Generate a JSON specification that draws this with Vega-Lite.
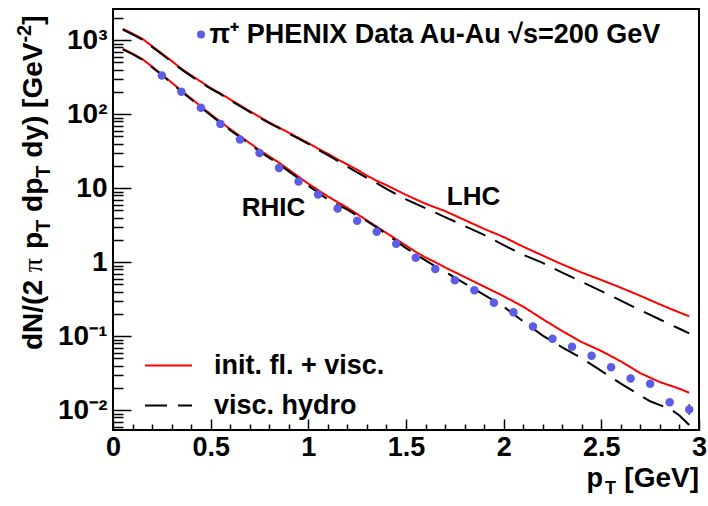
{
  "$schema": "https://vega.github.io/schema/vega-lite/v6.json",
  "width": 586,
  "height": 421,
  "autosize": {"type": "none"},
  "padding": {"left": 113, "top": 9, "right": 9, "bottom": 76},
  "background": "white",
  "config": {
    "font": "Liberation Sans",
    "view": {"stroke": "black", "strokeWidth": 2},
    "axis": {"title": null}
  },
  "resolve": {"axis": {"x": "independent", "y": "independent"}},
  "datasets": {
    "curves": [
      {"pt": 0.05, "v": 765, "m": "init. fl. + visc.", "c": "RHIC"},
      {"pt": 0.1, "v": 660, "m": "init. fl. + visc.", "c": "RHIC"},
      {"pt": 0.15, "v": 555, "m": "init. fl. + visc.", "c": "RHIC"},
      {"pt": 0.2, "v": 440, "m": "init. fl. + visc.", "c": "RHIC"},
      {"pt": 0.25, "v": 345, "m": "init. fl. + visc.", "c": "RHIC"},
      {"pt": 0.3, "v": 268, "m": "init. fl. + visc.", "c": "RHIC"},
      {"pt": 0.35, "v": 208, "m": "init. fl. + visc.", "c": "RHIC"},
      {"pt": 0.4, "v": 163, "m": "init. fl. + visc.", "c": "RHIC"},
      {"pt": 0.45, "v": 127, "m": "init. fl. + visc.", "c": "RHIC"},
      {"pt": 0.5, "v": 100, "m": "init. fl. + visc.", "c": "RHIC"},
      {"pt": 0.55, "v": 79, "m": "init. fl. + visc.", "c": "RHIC"},
      {"pt": 0.6, "v": 63, "m": "init. fl. + visc.", "c": "RHIC"},
      {"pt": 0.65, "v": 50.7, "m": "init. fl. + visc.", "c": "RHIC"},
      {"pt": 0.7, "v": 40.7, "m": "init. fl. + visc.", "c": "RHIC"},
      {"pt": 0.75, "v": 32.7, "m": "init. fl. + visc.", "c": "RHIC"},
      {"pt": 0.8, "v": 26.9, "m": "init. fl. + visc.", "c": "RHIC"},
      {"pt": 0.85, "v": 22.1, "m": "init. fl. + visc.", "c": "RHIC"},
      {"pt": 0.9, "v": 17.8, "m": "init. fl. + visc.", "c": "RHIC"},
      {"pt": 0.95, "v": 14.3, "m": "init. fl. + visc.", "c": "RHIC"},
      {"pt": 1.0, "v": 11.5, "m": "init. fl. + visc.", "c": "RHIC"},
      {"pt": 1.05, "v": 9.44, "m": "init. fl. + visc.", "c": "RHIC"},
      {"pt": 1.1, "v": 7.76, "m": "init. fl. + visc.", "c": "RHIC"},
      {"pt": 1.15, "v": 6.46, "m": "init. fl. + visc.", "c": "RHIC"},
      {"pt": 1.2, "v": 5.43, "m": "init. fl. + visc.", "c": "RHIC"},
      {"pt": 1.25, "v": 4.47, "m": "init. fl. + visc.", "c": "RHIC"},
      {"pt": 1.3, "v": 3.67, "m": "init. fl. + visc.", "c": "RHIC"},
      {"pt": 1.35, "v": 3.02, "m": "init. fl. + visc.", "c": "RHIC"},
      {"pt": 1.4, "v": 2.48, "m": "init. fl. + visc.", "c": "RHIC"},
      {"pt": 1.45, "v": 2.04, "m": "init. fl. + visc.", "c": "RHIC"},
      {"pt": 1.5, "v": 1.68, "m": "init. fl. + visc.", "c": "RHIC"},
      {"pt": 1.55, "v": 1.38, "m": "init. fl. + visc.", "c": "RHIC"},
      {"pt": 1.6, "v": 1.16, "m": "init. fl. + visc.", "c": "RHIC"},
      {"pt": 1.65, "v": 1.0, "m": "init. fl. + visc.", "c": "RHIC"},
      {"pt": 1.7, "v": 0.851, "m": "init. fl. + visc.", "c": "RHIC"},
      {"pt": 1.8, "v": 0.631, "m": "init. fl. + visc.", "c": "RHIC"},
      {"pt": 1.9, "v": 0.468, "m": "init. fl. + visc.", "c": "RHIC"},
      {"pt": 2.0, "v": 0.347, "m": "init. fl. + visc.", "c": "RHIC"},
      {"pt": 2.1, "v": 0.251, "m": "init. fl. + visc.", "c": "RHIC"},
      {"pt": 2.2, "v": 0.17, "m": "init. fl. + visc.", "c": "RHIC"},
      {"pt": 2.3, "v": 0.117, "m": "init. fl. + visc.", "c": "RHIC"},
      {"pt": 2.4, "v": 0.0832, "m": "init. fl. + visc.", "c": "RHIC"},
      {"pt": 2.5, "v": 0.0631, "m": "init. fl. + visc.", "c": "RHIC"},
      {"pt": 2.6, "v": 0.0457, "m": "init. fl. + visc.", "c": "RHIC"},
      {"pt": 2.7, "v": 0.0316, "m": "init. fl. + visc.", "c": "RHIC"},
      {"pt": 2.8, "v": 0.024, "m": "init. fl. + visc.", "c": "RHIC"},
      {"pt": 2.9, "v": 0.0195, "m": "init. fl. + visc.", "c": "RHIC"},
      {"pt": 2.95, "v": 0.0172, "m": "init. fl. + visc.", "c": "RHIC"},

      {"pt": 0.05, "v": 750, "m": "visc. hydro", "c": "RHIC"},
      {"pt": 0.1, "v": 648, "m": "visc. hydro", "c": "RHIC"},
      {"pt": 0.15, "v": 545, "m": "visc. hydro", "c": "RHIC"},
      {"pt": 0.2, "v": 432, "m": "visc. hydro", "c": "RHIC"},
      {"pt": 0.25, "v": 338, "m": "visc. hydro", "c": "RHIC"},
      {"pt": 0.3, "v": 262, "m": "visc. hydro", "c": "RHIC"},
      {"pt": 0.35, "v": 203, "m": "visc. hydro", "c": "RHIC"},
      {"pt": 0.4, "v": 159, "m": "visc. hydro", "c": "RHIC"},
      {"pt": 0.45, "v": 123.5, "m": "visc. hydro", "c": "RHIC"},
      {"pt": 0.5, "v": 97, "m": "visc. hydro", "c": "RHIC"},
      {"pt": 0.55, "v": 76.5, "m": "visc. hydro", "c": "RHIC"},
      {"pt": 0.6, "v": 61, "m": "visc. hydro", "c": "RHIC"},
      {"pt": 0.65, "v": 49, "m": "visc. hydro", "c": "RHIC"},
      {"pt": 0.7, "v": 39.3, "m": "visc. hydro", "c": "RHIC"},
      {"pt": 0.75, "v": 31.5, "m": "visc. hydro", "c": "RHIC"},
      {"pt": 0.8, "v": 25.7, "m": "visc. hydro", "c": "RHIC"},
      {"pt": 0.85, "v": 21, "m": "visc. hydro", "c": "RHIC"},
      {"pt": 0.9, "v": 16.9, "m": "visc. hydro", "c": "RHIC"},
      {"pt": 0.95, "v": 13.5, "m": "visc. hydro", "c": "RHIC"},
      {"pt": 1.0, "v": 10.8, "m": "visc. hydro", "c": "RHIC"},
      {"pt": 1.05, "v": 8.7, "m": "visc. hydro", "c": "RHIC"},
      {"pt": 1.1, "v": 7.05, "m": "visc. hydro", "c": "RHIC"},
      {"pt": 1.15, "v": 6.0, "m": "visc. hydro", "c": "RHIC"},
      {"pt": 1.2, "v": 5.13, "m": "visc. hydro", "c": "RHIC"},
      {"pt": 1.25, "v": 4.27, "m": "visc. hydro", "c": "RHIC"},
      {"pt": 1.3, "v": 3.59, "m": "visc. hydro", "c": "RHIC"},
      {"pt": 1.35, "v": 2.95, "m": "visc. hydro", "c": "RHIC"},
      {"pt": 1.4, "v": 2.38, "m": "visc. hydro", "c": "RHIC"},
      {"pt": 1.45, "v": 1.93, "m": "visc. hydro", "c": "RHIC"},
      {"pt": 1.5, "v": 1.55, "m": "visc. hydro", "c": "RHIC"},
      {"pt": 1.55, "v": 1.28, "m": "visc. hydro", "c": "RHIC"},
      {"pt": 1.6, "v": 1.06, "m": "visc. hydro", "c": "RHIC"},
      {"pt": 1.65, "v": 0.88, "m": "visc. hydro", "c": "RHIC"},
      {"pt": 1.7, "v": 0.74, "m": "visc. hydro", "c": "RHIC"},
      {"pt": 1.8, "v": 0.519, "m": "visc. hydro", "c": "RHIC"},
      {"pt": 1.9, "v": 0.363, "m": "visc. hydro", "c": "RHIC"},
      {"pt": 2.0, "v": 0.251, "m": "visc. hydro", "c": "RHIC"},
      {"pt": 2.1, "v": 0.158, "m": "visc. hydro", "c": "RHIC"},
      {"pt": 2.2, "v": 0.102, "m": "visc. hydro", "c": "RHIC"},
      {"pt": 2.3, "v": 0.0708, "m": "visc. hydro", "c": "RHIC"},
      {"pt": 2.4, "v": 0.0501, "m": "visc. hydro", "c": "RHIC"},
      {"pt": 2.5, "v": 0.0339, "m": "visc. hydro", "c": "RHIC"},
      {"pt": 2.6, "v": 0.0229, "m": "visc. hydro", "c": "RHIC"},
      {"pt": 2.7, "v": 0.0158, "m": "visc. hydro", "c": "RHIC"},
      {"pt": 2.75, "v": 0.0132, "m": "visc. hydro", "c": "RHIC"},
      {"pt": 2.8, "v": 0.0117, "m": "visc. hydro", "c": "RHIC"},
      {"pt": 2.85, "v": 0.0105, "m": "visc. hydro", "c": "RHIC"},
      {"pt": 2.9, "v": 0.0085, "m": "visc. hydro", "c": "RHIC"},
      {"pt": 2.95, "v": 0.0063, "m": "visc. hydro", "c": "RHIC"},

      {"pt": 0.05, "v": 1426, "m": "init. fl. + visc.", "c": "LHC"},
      {"pt": 0.1, "v": 1230, "m": "init. fl. + visc.", "c": "LHC"},
      {"pt": 0.15, "v": 1045, "m": "init. fl. + visc.", "c": "LHC"},
      {"pt": 0.2, "v": 832, "m": "init. fl. + visc.", "c": "LHC"},
      {"pt": 0.25, "v": 661, "m": "init. fl. + visc.", "c": "LHC"},
      {"pt": 0.3, "v": 525, "m": "init. fl. + visc.", "c": "LHC"},
      {"pt": 0.35, "v": 412, "m": "init. fl. + visc.", "c": "LHC"},
      {"pt": 0.4, "v": 335, "m": "init. fl. + visc.", "c": "LHC"},
      {"pt": 0.45, "v": 275, "m": "init. fl. + visc.", "c": "LHC"},
      {"pt": 0.5, "v": 226, "m": "init. fl. + visc.", "c": "LHC"},
      {"pt": 0.55, "v": 191, "m": "init. fl. + visc.", "c": "LHC"},
      {"pt": 0.6, "v": 158, "m": "init. fl. + visc.", "c": "LHC"},
      {"pt": 0.65, "v": 132, "m": "init. fl. + visc.", "c": "LHC"},
      {"pt": 0.7, "v": 110, "m": "init. fl. + visc.", "c": "LHC"},
      {"pt": 0.75, "v": 92.3, "m": "init. fl. + visc.", "c": "LHC"},
      {"pt": 0.8, "v": 77.6, "m": "init. fl. + visc.", "c": "LHC"},
      {"pt": 0.85, "v": 66.1, "m": "init. fl. + visc.", "c": "LHC"},
      {"pt": 0.9, "v": 56.2, "m": "init. fl. + visc.", "c": "LHC"},
      {"pt": 0.95, "v": 47.9, "m": "init. fl. + visc.", "c": "LHC"},
      {"pt": 1.0, "v": 40.7, "m": "init. fl. + visc.", "c": "LHC"},
      {"pt": 1.05, "v": 34.3, "m": "init. fl. + visc.", "c": "LHC"},
      {"pt": 1.1, "v": 29.2, "m": "init. fl. + visc.", "c": "LHC"},
      {"pt": 1.15, "v": 24.5, "m": "init. fl. + visc.", "c": "LHC"},
      {"pt": 1.2, "v": 20.9, "m": "init. fl. + visc.", "c": "LHC"},
      {"pt": 1.25, "v": 17.8, "m": "init. fl. + visc.", "c": "LHC"},
      {"pt": 1.3, "v": 14.8, "m": "init. fl. + visc.", "c": "LHC"},
      {"pt": 1.35, "v": 12.6, "m": "init. fl. + visc.", "c": "LHC"},
      {"pt": 1.4, "v": 11.0, "m": "init. fl. + visc.", "c": "LHC"},
      {"pt": 1.45, "v": 9.44, "m": "init. fl. + visc.", "c": "LHC"},
      {"pt": 1.5, "v": 8.13, "m": "init. fl. + visc.", "c": "LHC"},
      {"pt": 1.55, "v": 7.08, "m": "init. fl. + visc.", "c": "LHC"},
      {"pt": 1.6, "v": 6.17, "m": "init. fl. + visc.", "c": "LHC"},
      {"pt": 1.7, "v": 4.9, "m": "init. fl. + visc.", "c": "LHC"},
      {"pt": 1.8, "v": 3.72, "m": "init. fl. + visc.", "c": "LHC"},
      {"pt": 1.9, "v": 2.82, "m": "init. fl. + visc.", "c": "LHC"},
      {"pt": 2.0, "v": 2.19, "m": "init. fl. + visc.", "c": "LHC"},
      {"pt": 2.1, "v": 1.62, "m": "init. fl. + visc.", "c": "LHC"},
      {"pt": 2.2, "v": 1.23, "m": "init. fl. + visc.", "c": "LHC"},
      {"pt": 2.3, "v": 0.933, "m": "init. fl. + visc.", "c": "LHC"},
      {"pt": 2.4, "v": 0.724, "m": "init. fl. + visc.", "c": "LHC"},
      {"pt": 2.5, "v": 0.575, "m": "init. fl. + visc.", "c": "LHC"},
      {"pt": 2.6, "v": 0.452, "m": "init. fl. + visc.", "c": "LHC"},
      {"pt": 2.7, "v": 0.351, "m": "init. fl. + visc.", "c": "LHC"},
      {"pt": 2.8, "v": 0.269, "m": "init. fl. + visc.", "c": "LHC"},
      {"pt": 2.9, "v": 0.209, "m": "init. fl. + visc.", "c": "LHC"},
      {"pt": 2.95, "v": 0.186, "m": "init. fl. + visc.", "c": "LHC"},

      {"pt": 0.05, "v": 1393, "m": "visc. hydro", "c": "LHC"},
      {"pt": 0.1, "v": 1202, "m": "visc. hydro", "c": "LHC"},
      {"pt": 0.15, "v": 1021, "m": "visc. hydro", "c": "LHC"},
      {"pt": 0.2, "v": 813, "m": "visc. hydro", "c": "LHC"},
      {"pt": 0.25, "v": 646, "m": "visc. hydro", "c": "LHC"},
      {"pt": 0.3, "v": 513, "m": "visc. hydro", "c": "LHC"},
      {"pt": 0.35, "v": 403, "m": "visc. hydro", "c": "LHC"},
      {"pt": 0.4, "v": 327, "m": "visc. hydro", "c": "LHC"},
      {"pt": 0.45, "v": 269, "m": "visc. hydro", "c": "LHC"},
      {"pt": 0.5, "v": 221, "m": "visc. hydro", "c": "LHC"},
      {"pt": 0.55, "v": 187, "m": "visc. hydro", "c": "LHC"},
      {"pt": 0.6, "v": 154, "m": "visc. hydro", "c": "LHC"},
      {"pt": 0.65, "v": 129, "m": "visc. hydro", "c": "LHC"},
      {"pt": 0.7, "v": 107.5, "m": "visc. hydro", "c": "LHC"},
      {"pt": 0.75, "v": 90.2, "m": "visc. hydro", "c": "LHC"},
      {"pt": 0.8, "v": 75.9, "m": "visc. hydro", "c": "LHC"},
      {"pt": 0.85, "v": 64.6, "m": "visc. hydro", "c": "LHC"},
      {"pt": 0.9, "v": 54.9, "m": "visc. hydro", "c": "LHC"},
      {"pt": 0.95, "v": 46.8, "m": "visc. hydro", "c": "LHC"},
      {"pt": 1.0, "v": 39.6, "m": "visc. hydro", "c": "LHC"},
      {"pt": 1.05, "v": 33.1, "m": "visc. hydro", "c": "LHC"},
      {"pt": 1.1, "v": 27.9, "m": "visc. hydro", "c": "LHC"},
      {"pt": 1.15, "v": 23.4, "m": "visc. hydro", "c": "LHC"},
      {"pt": 1.2, "v": 19.5, "m": "visc. hydro", "c": "LHC"},
      {"pt": 1.25, "v": 16.4, "m": "visc. hydro", "c": "LHC"},
      {"pt": 1.3, "v": 13.8, "m": "visc. hydro", "c": "LHC"},
      {"pt": 1.35, "v": 11.7, "m": "visc. hydro", "c": "LHC"},
      {"pt": 1.4, "v": 9.77, "m": "visc. hydro", "c": "LHC"},
      {"pt": 1.45, "v": 8.32, "m": "visc. hydro", "c": "LHC"},
      {"pt": 1.5, "v": 7.08, "m": "visc. hydro", "c": "LHC"},
      {"pt": 1.6, "v": 5.37, "m": "visc. hydro", "c": "LHC"},
      {"pt": 1.7, "v": 4.07, "m": "visc. hydro", "c": "LHC"},
      {"pt": 1.8, "v": 3.09, "m": "visc. hydro", "c": "LHC"},
      {"pt": 1.9, "v": 2.34, "m": "visc. hydro", "c": "LHC"},
      {"pt": 2.0, "v": 1.7, "m": "visc. hydro", "c": "LHC"},
      {"pt": 2.1, "v": 1.26, "m": "visc. hydro", "c": "LHC"},
      {"pt": 2.2, "v": 0.977, "m": "visc. hydro", "c": "LHC"},
      {"pt": 2.3, "v": 0.724, "m": "visc. hydro", "c": "LHC"},
      {"pt": 2.4, "v": 0.543, "m": "visc. hydro", "c": "LHC"},
      {"pt": 2.5, "v": 0.407, "m": "visc. hydro", "c": "LHC"},
      {"pt": 2.6, "v": 0.302, "m": "visc. hydro", "c": "LHC"},
      {"pt": 2.7, "v": 0.224, "m": "visc. hydro", "c": "LHC"},
      {"pt": 2.8, "v": 0.168, "m": "visc. hydro", "c": "LHC"},
      {"pt": 2.9, "v": 0.126, "m": "visc. hydro", "c": "LHC"},
      {"pt": 2.95, "v": 0.109, "m": "visc. hydro", "c": "LHC"}
    ],
    "phenix": [
      {"pt": 0.25, "v": 334, "s": "π⁺ PHENIX Data Au-Au √s=200 GeV"},
      {"pt": 0.35, "v": 201, "s": "π⁺ PHENIX Data Au-Au √s=200 GeV"},
      {"pt": 0.45, "v": 122, "s": "π⁺ PHENIX Data Au-Au √s=200 GeV"},
      {"pt": 0.55, "v": 74, "s": "π⁺ PHENIX Data Au-Au √s=200 GeV"},
      {"pt": 0.65, "v": 45.5, "s": "π⁺ PHENIX Data Au-Au √s=200 GeV"},
      {"pt": 0.75, "v": 29.8, "s": "π⁺ PHENIX Data Au-Au √s=200 GeV"},
      {"pt": 0.85, "v": 18.7, "s": "π⁺ PHENIX Data Au-Au √s=200 GeV"},
      {"pt": 0.95, "v": 12.3, "s": "π⁺ PHENIX Data Au-Au √s=200 GeV"},
      {"pt": 1.05, "v": 8.2, "s": "π⁺ PHENIX Data Au-Au √s=200 GeV"},
      {"pt": 1.15, "v": 5.32, "s": "π⁺ PHENIX Data Au-Au √s=200 GeV"},
      {"pt": 1.25, "v": 3.63, "s": "π⁺ PHENIX Data Au-Au √s=200 GeV"},
      {"pt": 1.35, "v": 2.58, "s": "π⁺ PHENIX Data Au-Au √s=200 GeV"},
      {"pt": 1.45, "v": 1.77, "s": "π⁺ PHENIX Data Au-Au √s=200 GeV"},
      {"pt": 1.55, "v": 1.15, "s": "π⁺ PHENIX Data Au-Au √s=200 GeV"},
      {"pt": 1.65, "v": 0.81, "s": "π⁺ PHENIX Data Au-Au √s=200 GeV"},
      {"pt": 1.75, "v": 0.571, "s": "π⁺ PHENIX Data Au-Au √s=200 GeV"},
      {"pt": 1.85, "v": 0.419, "s": "π⁺ PHENIX Data Au-Au √s=200 GeV"},
      {"pt": 1.95, "v": 0.283, "s": "π⁺ PHENIX Data Au-Au √s=200 GeV"},
      {"pt": 2.05, "v": 0.211, "s": "π⁺ PHENIX Data Au-Au √s=200 GeV"},
      {"pt": 2.15, "v": 0.135, "s": "π⁺ PHENIX Data Au-Au √s=200 GeV"},
      {"pt": 2.25, "v": 0.0922, "s": "π⁺ PHENIX Data Au-Au √s=200 GeV"},
      {"pt": 2.35, "v": 0.0719, "s": "π⁺ PHENIX Data Au-Au √s=200 GeV"},
      {"pt": 2.45, "v": 0.0543, "s": "π⁺ PHENIX Data Au-Au √s=200 GeV"},
      {"pt": 2.55, "v": 0.0381, "s": "π⁺ PHENIX Data Au-Au √s=200 GeV"},
      {"pt": 2.65, "v": 0.0268, "s": "π⁺ PHENIX Data Au-Au √s=200 GeV"},
      {"pt": 2.75, "v": 0.0227, "s": "π⁺ PHENIX Data Au-Au √s=200 GeV"},
      {"pt": 2.85, "v": 0.0128, "lo": 0.0116, "hi": 0.0141, "s": "π⁺ PHENIX Data Au-Au √s=200 GeV"},
      {"pt": 2.95, "v": 0.0102, "lo": 0.0086, "hi": 0.0121, "s": "π⁺ PHENIX Data Au-Au √s=200 GeV"}
    ],
    "labels": [
      {"pt": 0.659, "v": 4.19, "t": "RHIC"},
      {"pt": 1.709, "v": 6.02, "t": "LHC"}
    ],
    "anchor": [{"a": 1}]
  },
  "layer": [
    {
      "data": {"name": "curves"},
      "mark": {"type": "line", "strokeWidth": 2, "clip": true},
      "encoding": {
        "x": {
          "field": "pt", "type": "quantitative",
          "scale": {"domain": [0, 3], "nice": false, "zero": false},
          "axis": {
            "title": null, "orient": "bottom",
            "values": [0, 0.5, 1, 1.5, 2, 2.5, 3],
            "format": "~g",
            "labelFont": "Liberation Sans", "labelFontSize": 27, "labelFontWeight": "bold", "labelColor": "black",
            "labelBaseline": "top", "labelPadding": 15, "labelOverlap": false, "labelFlush": false, "labelBound": false,
            "tickColor": "black", "tickWidth": 1.5, "tickSize": -11,
            "domain": false, "grid": false
          }
        },
        "y": {
          "field": "v", "type": "quantitative",
          "scale": {"type": "log", "domain": [0.0054, 2640], "nice": false},
          "axis": {
            "title": null, "orient": "left",
            "values": [0.01, 0.1, 1, 10, 100, 1000],
            "labelExpr": "datum.value === 0.01 ? '10⁻²' : datum.value === 0.1 ? '10⁻¹' : datum.value === 1 ? '1' : datum.value === 10 ? '10' : datum.value === 100 ? '10²' : '10³'",
            "labelFont": "Liberation Sans", "labelFontSize": 28, "labelFontWeight": "bold", "labelColor": "black",
            "labelAlign": "right", "labelBaseline": "middle", "labelPadding": 24, "labelOverlap": false, "labelFlush": false,
            "tickColor": "black", "tickWidth": 1.5, "tickSize": -18,
            "domain": false, "grid": false
          }
        },
        "color": {
          "field": "m", "type": "nominal",
          "scale": {"domain": ["init. fl. + visc.", "visc. hydro"], "range": ["#ff0000", "#000000"]},
          "legend": {
            "orient": "none", "legendX": 42, "legendY": 343, "title": null, "padding": 0,
            "labelFont": "Liberation Sans", "labelFontSize": 27, "labelFontWeight": "bold", "labelColor": "black", "labelLimit": 1000,
            "symbolType": "M-2,0L2,0", "symbolSize": 552, "symbolStrokeWidth": 2, "labelOffset": 32, "rowPadding": 12
          }
        },
        "strokeDash": {
          "field": "m", "type": "nominal",
          "scale": {"domain": ["init. fl. + visc.", "visc. hydro"], "range": [[1, 0], [22, 11]]},
          "legend": {
            "orient": "none", "legendX": 42, "legendY": 343, "title": null, "padding": 0,
            "labelFont": "Liberation Sans", "labelFontSize": 27, "labelFontWeight": "bold", "labelColor": "black", "labelLimit": 1000,
            "symbolType": "M-2,0L2,0", "symbolSize": 552, "symbolStrokeWidth": 2, "labelOffset": 32, "rowPadding": 12
          }
        },
        "detail": {"field": "c", "type": "nominal"}
      }
    },
    {
      "data": {"name": "phenix"},
      "transform": [{"filter": "isValid(datum.lo)"}],
      "mark": {"type": "rule", "color": "#444444", "strokeWidth": 1.5},
      "encoding": {
        "x": {
          "field": "pt", "type": "quantitative",
          "axis": {
            "title": null, "orient": "bottom",
            "values": [0.1, 0.2, 0.3, 0.4, 0.6, 0.7, 0.8, 0.9, 1.1, 1.2, 1.3, 1.4, 1.6, 1.7, 1.8, 1.9, 2.1, 2.2, 2.3, 2.4, 2.6, 2.7, 2.8, 2.9],
            "labels": false, "tickColor": "black", "tickWidth": 1.5, "tickSize": -6,
            "domain": false, "grid": false
          }
        },
        "y": {
          "field": "lo", "type": "quantitative",
          "axis": {
            "title": null, "orient": "left",
            "values": [0.006, 0.007, 0.008, 0.009, 0.02, 0.03, 0.04, 0.05, 0.06, 0.07, 0.08, 0.09, 0.2, 0.3, 0.4, 0.5, 0.6, 0.7, 0.8, 0.9, 2, 3, 4, 5, 6, 7, 8, 9, 20, 30, 40, 50, 60, 70, 80, 90, 200, 300, 400, 500, 600, 700, 800, 900, 2000],
            "labels": false, "tickColor": "black", "tickWidth": 1.5, "tickSize": -10,
            "domain": false, "grid": false
          }
        },
        "y2": {"field": "hi"}
      }
    },
    {
      "data": {"name": "phenix"},
      "mark": {"type": "point", "filled": true, "size": 72, "color": "#5c5ce6", "opacity": 1},
      "encoding": {
        "x": {"field": "pt", "type": "quantitative", "axis": null},
        "y": {"field": "v", "type": "quantitative", "axis": null},
        "shape": {
          "field": "s", "type": "nominal",
          "scale": {"range": ["circle"]},
          "legend": {
            "orient": "none", "legendX": 74.5, "legendY": 12, "title": null, "padding": 0,
            "labelFont": "Liberation Sans", "labelFontSize": 27, "labelFontWeight": "bold", "labelColor": "black", "labelLimit": 1000,
            "symbolSize": 64, "symbolFillColor": "#5c5ce6", "symbolStrokeColor": "#5c5ce6", "symbolStrokeWidth": 0, "symbolOpacity": 1, "labelOffset": -5
          }
        }
      }
    },
    {
      "data": {"name": "labels"},
      "mark": {"type": "text", "align": "left", "baseline": "alphabetic", "font": "Liberation Sans", "fontSize": 26, "fontWeight": "bold", "color": "black"},
      "encoding": {
        "x": {"field": "pt", "type": "quantitative", "axis": null},
        "y": {"field": "v", "type": "quantitative", "axis": null},
        "text": {"field": "t"}
      }
    },
    {
      "data": {"name": "anchor"},
      "mark": {"type": "text", "text": "[GeV]", "align": "right", "baseline": "alphabetic", "dx": 0, "dy": 57, "font": "Liberation Sans", "fontSize": 28, "fontWeight": "bold", "color": "black"},
      "encoding": {"x": {"datum": 3, "type": "quantitative", "axis": null}, "y": {"datum": 0.0054, "type": "quantitative", "axis": null}}
    },
    {
      "data": {"name": "anchor"},
      "mark": {"type": "text", "text": "T", "align": "right", "baseline": "alphabetic", "dx": -83, "dy": 64, "font": "Liberation Sans", "fontSize": 18, "fontWeight": "bold", "color": "black"},
      "encoding": {"x": {"datum": 3, "type": "quantitative", "axis": null}, "y": {"datum": 0.0054, "type": "quantitative", "axis": null}}
    },
    {
      "data": {"name": "anchor"},
      "mark": {"type": "text", "text": "p", "align": "right", "baseline": "alphabetic", "dx": -96, "dy": 57, "font": "Liberation Sans", "fontSize": 27, "fontWeight": "bold", "color": "black"},
      "encoding": {"x": {"datum": 3, "type": "quantitative", "axis": null}, "y": {"datum": 0.0054, "type": "quantitative", "axis": null}}
    },
    {
      "data": {"name": "anchor"},
      "mark": {"type": "text", "text": "dN/(2", "angle": 270, "align": "left", "baseline": "alphabetic", "dx": 80, "dy": -71, "font": "Liberation Sans", "fontSize": 28, "fontWeight": "bold", "color": "black"},
      "encoding": {"x": {"datum": 0, "type": "quantitative", "axis": null}, "y": {"datum": 0.0054, "type": "quantitative", "axis": null}}
    },
    {
      "data": {"name": "anchor"},
      "mark": {"type": "text", "text": "π", "angle": 270, "align": "left", "baseline": "alphabetic", "dx": 157.8, "dy": -71, "font": "Liberation Serif", "fontSize": 28, "fontWeight": "normal", "color": "black"},
      "encoding": {"x": {"datum": 0, "type": "quantitative", "axis": null}, "y": {"datum": 0.0054, "type": "quantitative", "axis": null}}
    },
    {
      "data": {"name": "anchor"},
      "mark": {"type": "text", "text": "p", "angle": 270, "align": "left", "baseline": "alphabetic", "dx": 181, "dy": -71, "font": "Liberation Sans", "fontSize": 28, "fontWeight": "bold", "color": "black"},
      "encoding": {"x": {"datum": 0, "type": "quantitative", "axis": null}, "y": {"datum": 0.0054, "type": "quantitative", "axis": null}}
    },
    {
      "data": {"name": "anchor"},
      "mark": {"type": "text", "text": "T", "angle": 270, "align": "left", "baseline": "alphabetic", "dx": 198.1, "dy": -63, "font": "Liberation Sans", "fontSize": 20, "fontWeight": "bold", "color": "black"},
      "encoding": {"x": {"datum": 0, "type": "quantitative", "axis": null}, "y": {"datum": 0.0054, "type": "quantitative", "axis": null}}
    },
    {
      "data": {"name": "anchor"},
      "mark": {"type": "text", "text": "dp", "angle": 270, "align": "left", "baseline": "alphabetic", "dx": 218.1, "dy": -71, "font": "Liberation Sans", "fontSize": 28, "fontWeight": "bold", "color": "black"},
      "encoding": {"x": {"datum": 0, "type": "quantitative", "axis": null}, "y": {"datum": 0.0054, "type": "quantitative", "axis": null}}
    },
    {
      "data": {"name": "anchor"},
      "mark": {"type": "text", "text": "T", "angle": 270, "align": "left", "baseline": "alphabetic", "dx": 252.3, "dy": -63, "font": "Liberation Sans", "fontSize": 20, "fontWeight": "bold", "color": "black"},
      "encoding": {"x": {"datum": 0, "type": "quantitative", "axis": null}, "y": {"datum": 0.0054, "type": "quantitative", "axis": null}}
    },
    {
      "data": {"name": "anchor"},
      "mark": {"type": "text", "text": "dy) [GeV", "angle": 270, "align": "left", "baseline": "alphabetic", "dx": 272.3, "dy": -71, "font": "Liberation Sans", "fontSize": 28, "fontWeight": "bold", "color": "black"},
      "encoding": {"x": {"datum": 0, "type": "quantitative", "axis": null}, "y": {"datum": 0.0054, "type": "quantitative", "axis": null}}
    },
    {
      "data": {"name": "anchor"},
      "mark": {"type": "text", "text": "-2", "angle": 270, "align": "left", "baseline": "alphabetic", "dx": 387.4, "dy": -82, "font": "Liberation Sans", "fontSize": 20, "fontWeight": "bold", "color": "black"},
      "encoding": {"x": {"datum": 0, "type": "quantitative", "axis": null}, "y": {"datum": 0.0054, "type": "quantitative", "axis": null}}
    },
    {
      "data": {"name": "anchor"},
      "mark": {"type": "text", "text": "]", "angle": 270, "align": "left", "baseline": "alphabetic", "dx": 405.2, "dy": -71, "font": "Liberation Sans", "fontSize": 28, "fontWeight": "bold", "color": "black"},
      "encoding": {"x": {"datum": 0, "type": "quantitative", "axis": null}, "y": {"datum": 0.0054, "type": "quantitative", "axis": null}}
    }
  ]
}
